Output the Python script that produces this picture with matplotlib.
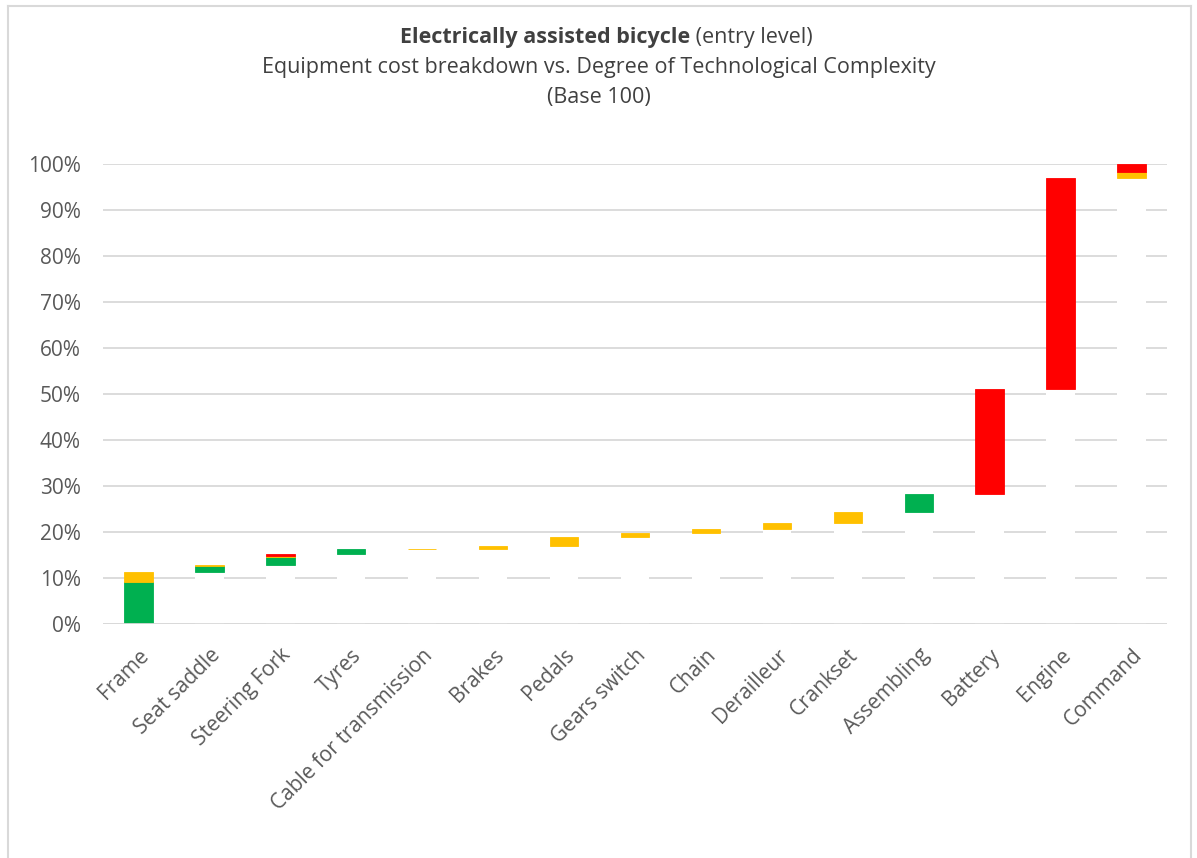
"""
Electrically assisted bicycle: equipment cost breakdown waterfall.
"""
import numpy as np
import matplotlib.pyplot as plt
from matplotlib.lines import Line2D
from matplotlib.ticker import PercentFormatter

plt.rcParams["font.family"] = ["Open Sans", "DejaVu Sans"]

components = ["Frame", "Seat saddle", "Steering Fork", "Tyres", "Cable for transmission",
              "Brakes", "Pedals", "Gears switch", "Chain", "Derailleur", "Crankset",
              "Assembling", "Battery", "Engine", "Command"]
# share of total cost (%) split by complexity level
low = [9.1, 1.2, 1.7, 1.0, 0, 0, 0, 0, 0, 0, 0, 4.0, 0, 0, 0]
medium = [2.3, 0.2, 0.3, 0, 0.15, 0.7, 1.9, 0.9, 0.9, 1.3, 2.2, 0, 0, 0, 1.5]
high = [0, 0, 0.4, 0, 0, 0, 0, 0, 0, 0, 0, 0, 22.9, 45.7, 1.65]

GREEN, YELLOW, RED = "#00B050", "#FFC000", "#FF0000"
TXT = "#404040"
W, H = 1197, 858

low_a = np.array(low) / 100
med_a = np.array(medium) / 100
high_a = np.array(high) / 100
total = low_a + med_a + high_a
base = np.concatenate([[0], np.cumsum(total)[:-1]])

fig = plt.figure(figsize=(W / 100, H / 100), dpi=100)
ax = fig.add_axes([103 / W, 1 - 624 / H, 1064 / W, 460 / H])
x = np.arange(len(components))
w = 0.4

ax.set_axisbelow(True)
ax.yaxis.grid(True, color="#D9D9D9", linewidth=1.3)
# invisible (white) base bars hide the gridlines like the original
ax.bar(x, base, w, color="white", linewidth=0, zorder=2)
bottom = base.copy()
for vals, col in [(low_a, GREEN), (med_a, YELLOW), (high_a, RED)]:
    edges = [col if v > 0 else "none" for v in vals]
    ax.bar(x, vals, w, bottom=bottom, color=col, edgecolor=edges, linewidth=0.6, zorder=3)
    bottom = bottom + vals
ax.axhline(0, color="#D9D9D9", linewidth=1.3, zorder=4)

ax.set_xlim(-0.5, len(components) - 0.5)
ax.set_ylim(0, 1.0)
ax.set_yticks(np.arange(0, 1.01, 0.1))
ax.yaxis.set_major_formatter(PercentFormatter(1.0, decimals=0))
ax.set_xticks(x)
ax.set_xticklabels(components, rotation=45, ha="right", rotation_mode="anchor")
ax.tick_params(axis="both", length=0, labelsize=15, labelcolor="#595959")
ax.tick_params(axis="x", pad=15)
ax.tick_params(axis="y", pad=16)
for s in ax.spines.values():
    s.set_visible(False)

# title line 1: bold part + regular part, centred together
t1 = fig.text(0, 1 - 38 / H, "Electrically assisted bicycle", ha="left", va="center",
              fontsize=15.5, fontweight="bold", color=TXT)
t2 = fig.text(0, 1 - 38 / H, " (entry level)", ha="left", va="center",
              fontsize=15.5, color=TXT)
r = fig.canvas.get_renderer()
w1 = t1.get_window_extent(r).width
w2 = t2.get_window_extent(r).width
x0 = 606 - (w1 + w2) / 2
t1.set_x(x0 / W)
t2.set_x((x0 + w1) / W)
fig.text(599 / W, 1 - 67 / H, "Equipment cost breakdown vs. Degree of Technological Complexity",
         ha="center", va="center", fontsize=15.5, color=TXT)
fig.text(599 / W, 1 - 98 / H, "(Base 100)", ha="center", va="center", fontsize=15.5, color=TXT)

# chart border (bottom edge cropped in the original)
bx0, bx1, by0, by1 = 8 / W, 1191 / W, 0, 1 - 6 / H
for xs, ys in [([bx0, bx0], [by0, by1]), ([bx0, bx1], [by1, by1]), ([bx1, bx1], [by1, by0])]:
    fig.add_artist(Line2D(xs, ys, transform=fig.transFigure, color="#D9D9D9", linewidth=1.5))

fig.savefig("out.png", dpi=100)
